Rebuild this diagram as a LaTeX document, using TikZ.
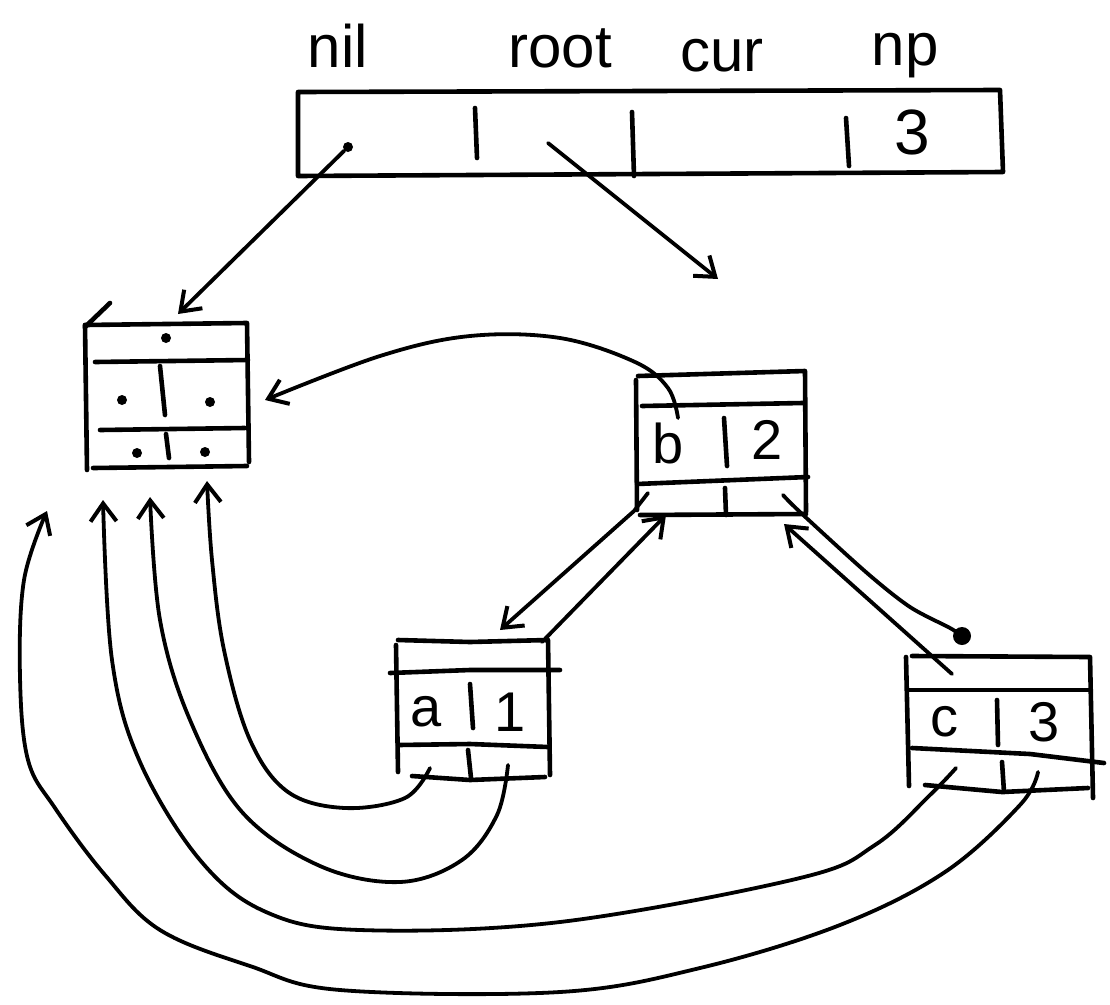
\documentclass[tikz,border=0pt]{standalone}
\usepackage{fontspec}
\setmainfont{Liberation Sans}
\usetikzlibrary{arrows.meta}
\begin{document}
\begin{tikzpicture}[x=1pt,y=-1pt,
  ink/.style={line width=4.6pt,line cap=round,line join=round},
  thin ink/.style={line width=3.8pt,line cap=round,line join=round},
  arr/.style={thin ink,-{Straight Barb[length=18pt,width=26pt,line width=4pt]}},
  lbl/.style={font=\fontsize{60}{60}\selectfont,inner sep=0pt},
  cell/.style={font=\fontsize{56}{56}\selectfont,inner sep=0pt},
  dot/.style={circle,fill=black,inner sep=0pt,minimum size=10pt}]
\useasboundingbox[fill=white] (0,0) rectangle (1110,1004);

% ---- top record: nil | root | cur | np ----
\node[lbl] (lnil)  at (338,46) {nil};
\node[lbl] (lroot) at (560,48) {root};
\node[lbl] (lcur)  at (722,56) {cur};
\node[lbl] (lnp)   at (905,56) {np};
\draw[ink] (298,92) -- (1000,90) -- (1003,172) -- (298,176) -- cycle;
\draw[ink] (475,108) -- (477,158);
\draw[ink] (632,112) -- (634,176);
\draw[ink] (846,118) -- (849,166);
\node[font=\fontsize{64}{64}\selectfont,inner sep=0pt] (npval) at (912,132) {3};
\node[dot] (nilptr) at (348,147) {};
\coordinate (rootptr) at (548,143);

% ---- nil node ----
\draw[ink] (85,325) -- (247,323) -- (249,462);
\draw[ink] (85,325) -- (87,470);
\draw[ink] (85,327) -- (110,303);
\draw[ink] (95,362) -- (248,360);
\draw[ink] (100,430) -- (245,428);
\draw[ink] (93,468) -- (247,466);
\draw[ink] (160,366) -- (165,415);
\draw[ink] (166,434) -- (169,458);
\node[dot] (n1) at (166,338) {};
\node[dot] (n2) at (122,400) {};
\node[dot] (n3) at (210,402) {};
\node[dot] (n4) at (137,453) {};
\node[dot] (n5) at (205,452) {};
\coordinate (niltop) at (178,314);
\coordinate (nilright) at (265,400);
\coordinate (tip1) at (207,481);
\coordinate (tip2) at (150,497);
\coordinate (tip3) at (103,500);
\coordinate (tip4) at (47,511);

% ---- node b ----
\draw[ink] (638,376) -- (805,371) -- (806,512);
\draw[ink] (636,380) -- (637,510);
\draw[ink] (642,406) -- (803,403);
\draw[ink] (637,484) -- (808,477);
\draw[ink] (640,515) -- (806,514);
\draw[ink] (724,418) -- (727,466);
\draw[ink] (725,488) -- (726,515);
\node[cell] (bkey) at (668,443) {b};
\node[cell] (bval) at (767,440) {2};
\coordinate (bup) at (678,418);
\coordinate (bleft) at (648,493);
\coordinate (bright) at (783,495);
\coordinate (btipL) at (666,515);
\coordinate (btipR) at (784,524);

% ---- node a ----
\draw[ink] (398,640) -- (470,642) -- (548,640) -- (550,775);
\draw[ink] (396,645) -- (398,772);
\draw[ink] (390,673) -- (470,670) -- (560,670);
\draw[ink] (398,745) -- (470,744) -- (548,747);
\draw[ink] (412,776) -- (470,780) -- (545,777);
\draw[ink] (470,684) -- (473,728);
\draw[ink] (468,750) -- (471,778);
\node[cell] (akey) at (426,712) {a};
\node[cell] (aval) at (510,712) {1};
\coordinate (aL) at (430,768);
\coordinate (aR) at (508,765);
\coordinate (atop) at (542,642);
\coordinate (atip) at (500,630);

% ---- node c ----
\draw[ink] (912,656) -- (1090,657) -- (1093,798);
\draw[ink] (906,657) -- (909,786);
\draw[ink] (908,690) -- (1090,690);
\draw[ink] (912,748) -- (1030,754) -- (1104,763);
\draw[ink] (925,785) -- (1002,792) -- (1088,788);
\draw[ink] (997,700) -- (998,745);
\draw[ink] (1002,762) -- (1004,792);
\node[cell] (ckey) at (944,722) {c};
\node[cell] (cval) at (1044,722) {3};
\coordinate (cL) at (956,768);
\coordinate (cR) at (1038,772);
\coordinate (ctop) at (952,674);
\coordinate (cblob) at (962,636);

% ---- pointers from the top record ----
\draw[arr] (nilptr) -- (niltop);
\draw[arr] (rootptr) -- (718,279);

% ---- b back to nil ----
\draw[arr] plot[smooth,tension=0.6] coordinates
  {(bup) (668,388) (635,362) (560,338) (470,336) (380,356) (nilright)};

% ---- b <-> a ----
\draw[arr] (bleft) -- (634,511) -- (atip);
\draw[arr] (atop) -- (btipL);

% ---- b <-> c ----
\draw[thin ink] plot[smooth,tension=0.5] coordinates
  {(bright) (800,512) (867,573) (910,607) (950,628) (cblob)};
\fill (cblob) circle (9pt);
\draw[arr] (ctop) -- (btipR);

% ---- left pointers of a and c back to nil ----
\draw[arr] plot[smooth,tension=0.6] coordinates
  {(aL) (405,798) (345,808) (288,792) (250,740) (224,650) (212,560) (tip1)};
\draw[arr] plot[smooth,tension=0.6] coordinates
  {(aR) (497,815) (462,860) (400,882) (320,866) (242,812) (190,720) (160,620) (tip2)};
\draw[arr] plot[smooth,tension=0.6] coordinates
  {(cL) (930,795) (875,845) (800,878) (560,922) (360,930) (266,912) (200,860) (140,762) (112,660) (tip3)};
\draw[arr] plot[smooth,tension=0.6] coordinates
  {(cR) (1020,805) (945,872) (840,925) (700,968) (560,992) (340,990) (250,966) (160,930) (105,875) (55,808) (28,760) (20,677) (24,580) (tip4)};
\end{tikzpicture}
\end{document}
